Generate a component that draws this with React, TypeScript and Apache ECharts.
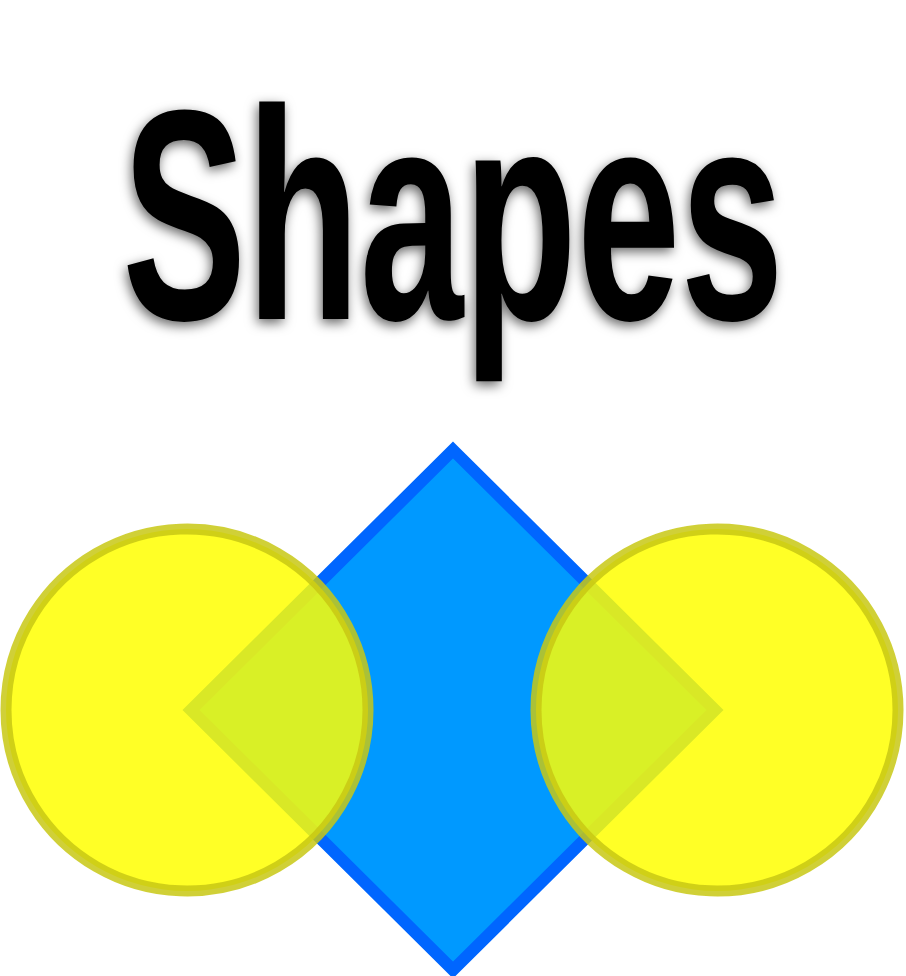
import * as echarts from "echarts"
import { useEffect, useRef } from "react"

const titleText = "Shapes"
// [cx, cy, r]
const circles = [
  [187, 710, 181],
  [717, 710, 181],
]
// diamond [cx, cy, halfWidth, halfHeight]
const diamond = [453, 710, 262, 260]

const App: React.FC = () => {
  const ref = useRef<HTMLDivElement>(null)

  useEffect(() => {
    document.body.style.margin = "0"
    const chart = echarts.init(ref.current!, null, { renderer: "svg" })
    const [dx, dy, hw, hh] = diamond
    chart.setOption({
      animation: false,
      graphic: [
        {
          type: "text",
          x: 453,
          y: 215,
          scaleX: 0.62,
          originX: 0,
          style: {
            text: titleText,
            fontFamily: "Liberation Sans",
            fontWeight: "bold",
            fontSize: 300,
            fill: "#000",
            align: "center",
            verticalAlign: "middle",
            textShadowColor: "rgba(0,0,0,0.6)",
            textShadowBlur: 12,
            textShadowOffsetX: -2,
            textShadowOffsetY: 4,
          },
        },
        {
          type: "polygon",
          shape: {
            points: [
              [dx, dy - hh],
              [dx + hw, dy],
              [dx, dy + hh],
              [dx - hw, dy],
            ],
          },
          style: { fill: "#0099ff", stroke: "#0066ff", lineWidth: 12 },
        },
        ...circles.map(([cx, cy, r]) => ({
          type: "circle",
          shape: { cx, cy, r },
          style: {
            fill: "rgba(255,255,0,0.85)",
            stroke: "rgba(200,200,20,0.85)",
            lineWidth: 11,
          },
        })),
      ],
    })
    return () => chart.dispose()
  }, [])

  return <div ref={ref} style={{ width: 906, height: 976 }}></div>
}

export default App
